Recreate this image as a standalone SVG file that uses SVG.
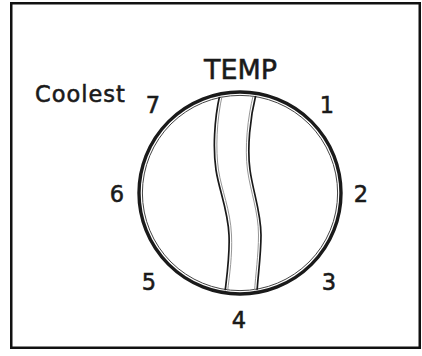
<svg xmlns="http://www.w3.org/2000/svg" width="422" height="356" viewBox="0 0 422 356">
<style>
.t{font-family:"DejaVu Sans",Verdana,sans-serif;fill:#1a1a1a;stroke:#1a1a1a;stroke-width:0.55;}
.n{font-size:22.5px;text-anchor:middle;}
.dark{fill:none;stroke:#1a1a1a;stroke-width:1.7;}
.lite{fill:none;stroke:#8a8a8a;stroke-width:0.9;}
</style>
<defs>
<clipPath id="dial"><circle cx="240" cy="193" r="98.5"/></clipPath>
</defs>
<rect id="frame" x="11.25" y="3.25" width="408.5" height="344.5" fill="#fff" stroke="#111" stroke-width="2.5"/>
<g id="knob">
<circle cx="240" cy="193" r="101" fill="none" stroke="#1a1a1a" stroke-width="3.4"/>
<circle cx="240" cy="193" r="97.6" fill="none" stroke="#444" stroke-width="1"/>
<g clip-path="url(#dial)">
<path class="dark" d="M220,94 C214,120 213,150 216,170 C219,190 228,210 229,235 C230,255 227,275 225,292"/>
<path class="lite" d="M222.5,94 C216.5,120 215.5,150 218.5,170 C221.5,190 230.5,210 231.5,235 C232.5,255 229.5,275 227.5,292"/>
<path class="dark" d="M256,94 C250,118 247,148 250,170 C253,192 261,212 261,235 C261,255 258,275 257,292"/>
<path class="lite" d="M253.5,94 C247.5,118 244.5,148 247.5,170 C250.5,192 258.5,212 258.5,235 C258.5,255 255.5,275 254.5,292"/>
</g>
</g>
<g id="labels">
<text class="t" x="240.5" y="79" font-size="27" text-anchor="middle">TEMP</text>
<text class="t" x="35" y="102.3" font-size="22.5" letter-spacing="1">Coolest</text>
<text class="t n" x="153" y="113.3">7</text>
<text class="t n" x="327" y="113.3">1</text>
<text class="t n" x="117" y="201.7">6</text>
<text class="t n" x="361" y="201.7">2</text>
<text class="t n" x="149" y="290">5</text>
<text class="t n" x="329" y="290">3</text>
<text class="t n" x="239" y="328">4</text>
</g>
</svg>
